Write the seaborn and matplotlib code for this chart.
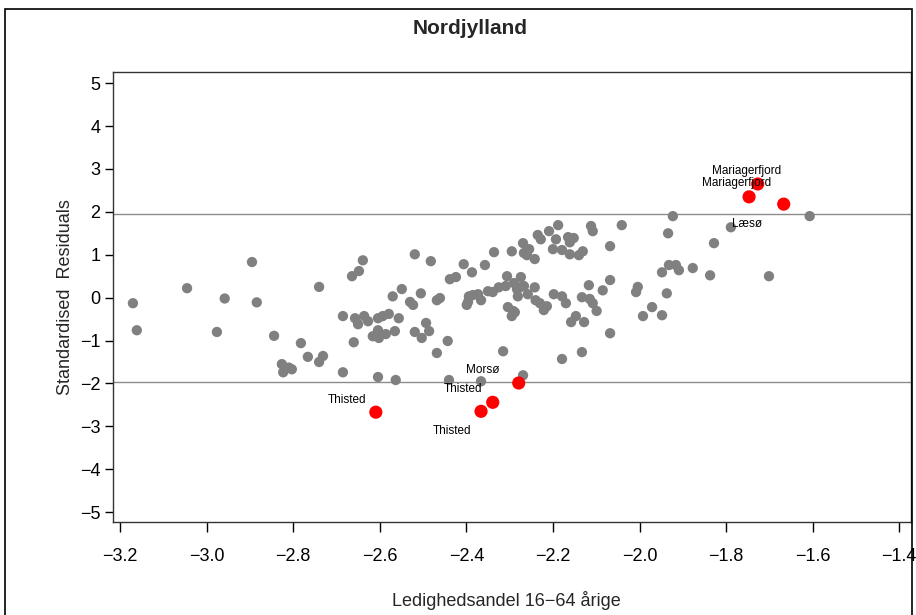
import matplotlib
matplotlib.use("Agg")
import matplotlib.pyplot as plt
from matplotlib import font_manager
from matplotlib.patches import Rectangle
import seaborn as sns
import pandas as pd

# ---- data -------------------------------------------------------------
gray_x = [-3.170, -3.161, -3.045, -2.958, -2.976, -2.895, -2.884, -2.844, -2.782, -2.766,
          -2.826, -2.823, -2.810, -2.803, -2.740, -2.740, -2.731, -2.685, -2.685, -2.664,
          -2.657, -2.660, -2.650, -2.648, -2.639, -2.636, -2.627, -2.616, -2.604, -2.602,
          -2.604, -2.593, -2.579, -2.586, -2.565, -2.570, -2.549, -2.556, -2.604, -2.563,
          -2.519, -2.530, -2.523, -2.505, -2.519, -2.503, -2.493, -2.486, -2.482, -2.468,
          -2.461, -2.468, -2.443, -2.440, -2.438, -2.424, -2.406, -2.387, -2.394, -2.399,
          -2.396, -2.385, -2.373, -2.366, -2.357, -2.350, -2.339, -2.336, -2.325, -2.315,
          -2.309, -2.306, -2.304, -2.295, -2.292, -2.288, -2.290, -2.283, -2.281, -2.274,
          -2.276, -2.267, -2.269, -2.267, -2.255, -2.260, -2.295, -2.242, -2.258, -2.242,
          -2.240, -2.230, -2.221, -2.214, -2.235, -2.228, -2.209, -2.188, -2.193, -2.200,
          -2.179, -2.165, -2.161, -2.152, -2.161, -2.140, -2.131, -2.112, -2.108, -2.117,
          -2.198, -2.179, -2.170, -2.133, -2.115, -2.108, -2.099, -2.147, -2.158, -2.128,
          -2.179, -2.133, -2.269, -2.366, -2.041, -2.068, -1.923, -1.934, -1.828, -1.789,
          -1.607, -1.948, -1.932, -1.916, -1.909, -1.877, -1.837, -1.701, -2.068, -2.085,
          -2.004, -2.008, -1.937, -1.971, -1.992, -1.948, -2.068]
gray_y = [-0.13, -0.76, 0.22, -0.02, -0.80, 0.83, -0.11, -0.89, -1.06, -1.38,
          -1.55, -1.74, -1.63, -1.67, 0.25, -1.50, -1.36, -1.74, -0.43, 0.50,
          -0.48, -1.04, -0.62, 0.62, 0.87, -0.43, -0.55, -0.90, -0.76, -0.94,
          -0.48, -0.43, -0.38, -0.85, -0.78, 0.03, 0.20, -0.48, -1.85, -1.92,
          1.01, -0.10, -0.17, 0.10, -0.80, -0.94, -0.59, -0.78, 0.85, -0.06,
          -0.01, -1.29, -1.01, -1.92, 0.43, 0.48, 0.78, 0.59, 0.03, -0.17,
          -0.10, 0.06, 0.08, -0.06, 0.76, 0.15, 0.13, 1.06, 0.24, -1.25,
          0.27, 0.50, -0.22, -0.43, -0.31, -0.34, 0.34, 0.20, 0.03, 0.48,
          0.24, 0.27, 1.27, 1.04, 1.13, 0.99, 1.08, 0.90, 0.08, 0.24,
          -0.06, -0.13, -0.29, -0.20, 1.46, 1.36, 1.55, 1.69, 1.36, 1.13,
          1.11, 1.41, 1.29, 1.39, 1.01, 0.99, 1.08, 1.67, 1.55, 0.29,
          0.08, 0.03, -0.13, 0.01, -0.03, -0.13, -0.31, -0.43, -0.57, -0.57,
          -1.43, -1.27, -1.81, -1.95, 1.69, 1.20, 1.90, 1.50, 1.27, 1.64,
          1.90, 0.59, 0.76, 0.76, 0.64, 0.69, 0.52, 0.50, 0.41, 0.17,
          0.25, 0.13, 0.10, -0.22, -0.43, -0.41, -0.83]

red_x = [-2.609, -2.366, -2.339, -2.279, -1.747, -1.727, -1.667]
red_y = [-2.67, -2.65, -2.44, -1.99, 2.35, 2.65, 2.18]
red_labels = ["Thisted", "Thisted", "Thisted", "Mors\u00f8",
              "Mariagerfjord", "Mariagerfjord", "L\u00e6s\u00f8"]

title = "Nordjylland"
x_label = "Ledighedsandel 16\u221264 \u00e5rige"
y_label = "Standardised  Residuals"
x_ticks = [-3.2, -3.0, -2.8, -2.6, -2.4, -2.2, -2.0, -1.8, -1.6, -1.4]
y_ticks = [5, 4, 3, 2, 1, 0, -1, -2, -3, -4, -5]
ref_levels = [1.96, -1.96]

# ---- styling -----------------------------------------------------------
sns.set_style("white")
names = {f.name for f in font_manager.fontManager.ttflist}
fam = "Liberation Sans Narrow" if "Liberation Sans Narrow" in names else "Liberation Sans"
plt.rcParams["font.family"] = [fam, "DejaVu Sans"]

W, H = 916, 615
fig = plt.figure(figsize=(W / 100, H / 100), dpi=100)
ax = fig.add_axes([113 / W, 1 - 522 / H, (911 - 113) / W, (522 - 72) / H])

df_gray = pd.DataFrame({"x": gray_x, "y": gray_y})
df_red = pd.DataFrame({"x": red_x, "y": red_y, "label": red_labels})

for lv in ref_levels:
    ax.axhline(lv, color="#8c8c8c", lw=1.0, zorder=1)

sns.scatterplot(data=df_gray, x="x", y="y", ax=ax, color="#808080", s=55,
                edgecolor="none", zorder=3, legend=False)
sns.scatterplot(data=df_red, x="x", y="y", ax=ax, color="#ff0000", s=90,
                edgecolor="none", zorder=4, legend=False)

# label offsets in pixels (placement only)
offsets = [(-29, 12), (-29, -20), (-30, 13), (-36, 13), (-12, 14), (-11, 13), (-37, -20)]
for (_, r), off in zip(df_red.iterrows(), offsets):
    ax.annotate(r["label"], (r["x"], r["y"]), xytext=off, textcoords="offset pixels",
                ha="center", va="center", fontsize=8.5, color="black", zorder=5)

ax.set_xlim(-3.216, -1.373)
ax.set_ylim(-5.23, 5.26)
ax.set_xticks(x_ticks)
ax.set_xticklabels([f"{v:.1f}".replace("-", "\u2212") for v in x_ticks])
ax.set_yticks(y_ticks)
ax.set_yticklabels([str(v).replace("-", "\u2212") for v in y_ticks])
ax.tick_params(axis="both", which="major", bottom=True, left=True, top=False,
               right=False, direction="out", length=6, width=1, colors="black",
               labelsize=13)
ax.tick_params(axis="y", pad=3)
ax.tick_params(axis="x", length=7, pad=12)
for sp in ax.spines.values():
    sp.set_color("#333333")
    sp.set_linewidth(1.0)
ax.set_xlabel("")
ax.set_ylabel("")

fig.text(470 / W, 1 - 28 / H, title, ha="center", va="center", fontsize=15,
         fontweight="bold")
fig.text(506 / W, 1 - 600 / H, x_label, ha="center", va="center", fontsize=13)
fig.text(66 / W, 1 - 297 / H, y_label, ha="center", va="center", fontsize=13,
         rotation=90)

fig.patches.append(Rectangle((5 / W, -0.02), (912 - 5) / W, 1 - 9 / H + 0.02,
                             transform=fig.transFigure, fill=False,
                             edgecolor="black", lw=1.2))

fig.savefig("out.png", dpi=100)
